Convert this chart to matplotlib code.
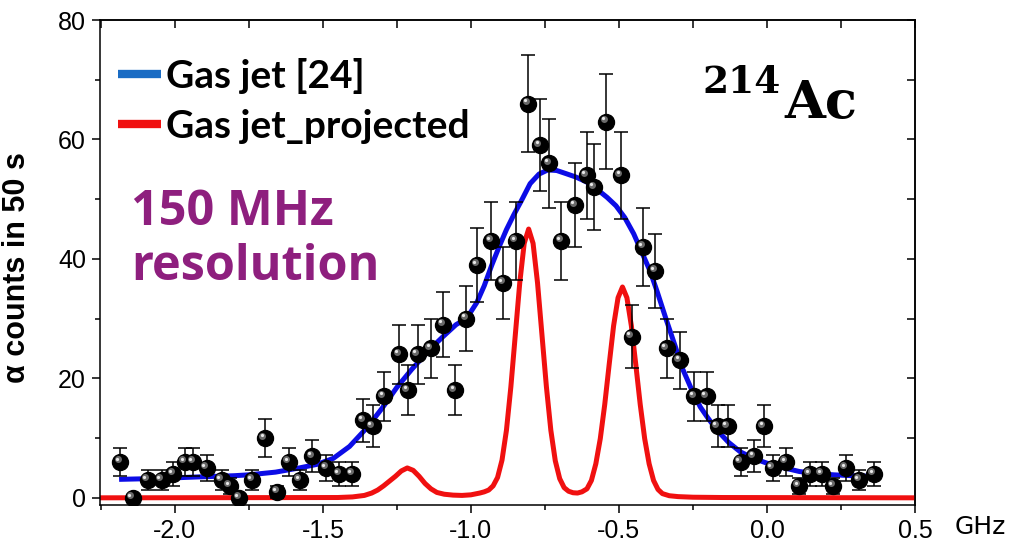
import numpy as np
import matplotlib
matplotlib.use("Agg")
import matplotlib.pyplot as plt
from matplotlib.lines import Line2D
from matplotlib.ticker import MultipleLocator, FormatStrFormatter
from matplotlib.transforms import ScaledTranslation

plt.rcParams['axes.unicode_minus'] = False

# alpha counts measured with the gas jet (GHz, counts in 50 s, error)
freq = [-2.185, -2.143, -2.092, -2.045, -2.006, -1.966, -1.938, -1.893, -1.842, -1.814,
        -1.783, -1.738, -1.696, -1.654, -1.615, -1.578, -1.536, -1.488, -1.445, -1.401,
        -1.364, -1.332, -1.294, -1.242, -1.213, -1.180, -1.135, -1.094, -1.054, -1.015,
        -0.978, -0.932, -0.891, -0.848, -0.806, -0.767, -0.736, -0.694, -0.648, -0.609,
        -0.583, -0.542, -0.494, -0.457, -0.417, -0.378, -0.339, -0.294, -0.246, -0.204,
        -0.167, -0.133, -0.089, -0.044, -0.010, 0.019, 0.064, 0.108, 0.145, 0.185,
        0.224, 0.267, 0.312, 0.361]
counts = [6, 0, 3, 3, 4, 6, 6, 5, 3, 2,
          0, 3, 10, 1, 6, 3, 7, 5, 4, 4,
          13, 12, 17, 24, 18, 24, 25, 29, 18, 30,
          39, 43, 36, 43, 66, 59, 56, 43, 49, 54,
          52, 63, 54, 27, 42, 38, 25, 23, 17, 17,
          12, 12, 6, 7, 12, 5, 6, 2, 4, 4,
          2, 5, 3, 4]
err = [2.4, 0, 1.7, 1.7, 2.0, 2.4, 2.4, 2.2, 1.7, 1.4,
       0, 1.7, 3.2, 1.0, 2.4, 1.7, 2.6, 2.2, 2.0, 2.0,
       3.6, 3.5, 4.1, 4.9, 4.2, 4.9, 5.0, 5.4, 4.2, 5.5,
       6.2, 6.6, 6.0, 6.6, 8.1, 7.7, 7.5, 6.6, 7.0, 7.3,
       7.2, 7.9, 7.3, 5.2, 6.5, 6.2, 5.0, 4.8, 4.1, 4.1,
       3.5, 3.5, 2.4, 2.6, 3.5, 2.2, 2.4, 1.4, 2.0, 2.0,
       1.4, 2.2, 1.7, 2.0]

# fit curve, gas jet [24]
fit_x = [-2.18, -2.05, -1.92, -1.80, -1.75, -1.66, -1.58, -1.52, -1.465, -1.41,
         -1.35, -1.30, -1.25, -1.20, -1.14, -1.094, -1.05, -1.015, -0.98, -0.955,
         -0.93, -0.905, -0.88, -0.855, -0.83, -0.80, -0.77, -0.74, -0.71, -0.68,
         -0.645, -0.61, -0.575, -0.54, -0.51, -0.48, -0.45, -0.42, -0.395, -0.37,
         -0.34, -0.31, -0.285, -0.255, -0.225, -0.20, -0.17, -0.13, -0.09, -0.045,
         0.0, 0.05, 0.11, 0.17, 0.225, 0.29, 0.36]
fit_y = [3.1, 3.25, 3.5, 3.7, 3.85, 4.3, 5.0, 5.6, 6.6, 8.6,
         11.8, 15.0, 18.5, 21.5, 24.8, 27.0, 29.0, 30.0, 32.7, 35.5,
         38.9, 42.0, 44.9, 47.4, 49.7, 52.6, 54.2, 54.9, 54.8, 54.3,
         53.7, 52.9, 51.7, 50.3, 48.9, 46.9, 44.2, 40.8, 38.0, 34.4,
         29.8, 25.4, 21.6, 18.2, 15.2, 13.4, 11.4, 9.3, 7.7, 6.6,
         5.8, 5.1, 4.4, 4.05, 3.85, 3.7, 3.6]

# projected spectrum at 150 MHz resolution
proj_x = [-2.25, -1.45, -1.40, -1.36, -1.335, -1.315, -1.295, -1.275, -1.255, -1.235,
          -1.215, -1.195, -1.175, -1.155, -1.135, -1.115, -1.09, -1.06, -1.03, -1.0,
          -0.97, -0.955, -0.94, -0.925, -0.91, -0.895, -0.88, -0.865, -0.85, -0.835,
          -0.82, -0.805, -0.79, -0.775, -0.76, -0.745, -0.73, -0.715, -0.70, -0.685,
          -0.67, -0.655, -0.64, -0.625, -0.608, -0.593, -0.578, -0.563, -0.548, -0.533,
          -0.518, -0.503, -0.488, -0.473, -0.458, -0.443, -0.428, -0.413, -0.398, -0.383,
          -0.368, -0.353, -0.33, -0.30, -0.25, -0.15, 0.5]
proj_y = [0, 0.05, 0.15, 0.4, 0.8, 1.3, 2.0, 2.8, 3.6, 4.5,
          5.0, 4.6, 3.6, 2.4, 1.5, 0.9, 0.6, 0.45, 0.4, 0.5,
          0.8, 1.0, 1.3, 2.0, 3.4, 6.3, 11.3, 18.6, 27.3, 36.0,
          42.6, 45.0, 42.6, 36.0, 27.3, 18.6, 11.3, 6.2, 3.2, 1.7,
          1.1, 0.85, 0.8, 1.0, 1.5, 2.9, 5.7, 9.9, 15.6, 22.3,
          28.8, 33.5, 35.3, 33.5, 28.8, 22.3, 15.6, 9.9, 5.7, 2.9,
          1.4, 0.7, 0.35, 0.2, 0.1, 0.05, 0]

x_ticks = [-2.0, -1.5, -1.0, -0.5, 0.0, 0.5]
y_ticks = [0, 20, 40, 60, 80]

fig = plt.figure(figsize=(10.11, 5.48), dpi=100)
ax = fig.add_axes([0.0989, 0.0785, 0.8061, 0.885])

# curves
ax.plot(proj_x, proj_y, color='#f01010', lw=3.6, zorder=2)
ax.plot(fit_x, fit_y, color='#0c0ce6', lw=3.6, zorder=3)

# data points as shaded balls
ax.errorbar(freq, counts, yerr=err, fmt='none', ecolor='black', elinewidth=1.1,
            capsize=5, capthick=1.1, zorder=4)
ax.plot(freq, counts, 'o', ms=11.5, color='black', mec='black', zorder=5)
shift = ScaledTranslation(-1.8 / 72, 1.8 / 72, fig.dpi_scale_trans)
ax.plot(freq, counts, 'o', ms=5, color='#6a6a6a', mec='none', zorder=6,
        transform=ax.transData + shift)
shift2 = ScaledTranslation(-2.3 / 72, 2.3 / 72, fig.dpi_scale_trans)
ax.plot(freq, counts, 'o', ms=2.3, color='#e8e8e8', mec='none', zorder=7,
        transform=ax.transData + shift2)

ax.set_xlim(-2.253, 0.5)
ax.set_ylim(-1.2, 80)

ax.set_xticks(x_ticks)
ax.set_yticks(y_ticks)
ax.xaxis.set_major_formatter(FormatStrFormatter('%.1f'))
ax.xaxis.set_minor_locator(MultipleLocator(0.25))
ax.yaxis.set_minor_locator(MultipleLocator(10))
for lab in ax.get_xticklabels() + ax.get_yticklabels():
    lab.set_fontfamily('Liberation Sans')
    lab.set_fontsize(18)
ax.tick_params(which='major', direction='out', length=6, width=1.1, pad=4)
ax.tick_params(which='minor', direction='out', length=3.5, width=1.1)
for s in ax.spines.values():
    s.set_linewidth(1.1)

# mirrored ticks on top and right, pointing inwards
secx = ax.secondary_xaxis('top')
secx.set_xticks(x_ticks)
secx.xaxis.set_minor_locator(MultipleLocator(0.25))
secx.tick_params(which='both', direction='in', length=6, width=1.1, labeltop=False)
secx.spines['top'].set_linewidth(1.1)
secy = ax.secondary_yaxis('right')
secy.set_yticks(y_ticks)
secy.yaxis.set_minor_locator(MultipleLocator(10))
secy.tick_params(which='both', direction='in', length=6, width=1.1, labelright=False)
secy.spines['right'].set_linewidth(1.1)

ax.set_ylabel('α counts in 50 s', fontfamily='Liberation Sans', fontweight='bold', fontsize=22)
ax.yaxis.set_label_coords(-0.083, 0.49)
ax.set_xlabel('GHz', fontfamily='DejaVu Sans', fontsize=18)
ax.xaxis.set_label_coords(1.08, -0.02)
ax.xaxis.label.set_va('top')

handles = [Line2D([], [], color='#1a6cc4', lw=6, solid_capstyle='butt'),
           Line2D([], [], color='#f01010', lw=6, solid_capstyle='butt')]
ax.legend(handles, ['Gas jet [24]', 'Gas jet_projected'], loc='upper left',
          bbox_to_anchor=(0.022, 0.922), frameon=False, borderpad=0, borderaxespad=0,
          handlelength=1.1, handletextpad=0.13, labelspacing=0.38,
          prop=dict(family='Lato', weight='bold', size=28))

ax.text(0.038, 0.464, '150 MHz\nresolution', transform=ax.transAxes, color='#8e1f7e',
        fontfamily='Open Sans', fontweight='bold', fontsize=35, linespacing=1.15,
        va='baseline', ha='left')

ax.text(0.739, 0.849, '214', transform=ax.transAxes, fontfamily='DejaVu Serif',
        fontweight='bold', fontsize=27, va='baseline', ha='left')
ax.text(0.84, 0.797, 'Ac', transform=ax.transAxes, fontfamily='DejaVu Serif',
        fontweight='bold', fontsize=38, va='baseline', ha='left')

fig.savefig('out.png', dpi=100)
